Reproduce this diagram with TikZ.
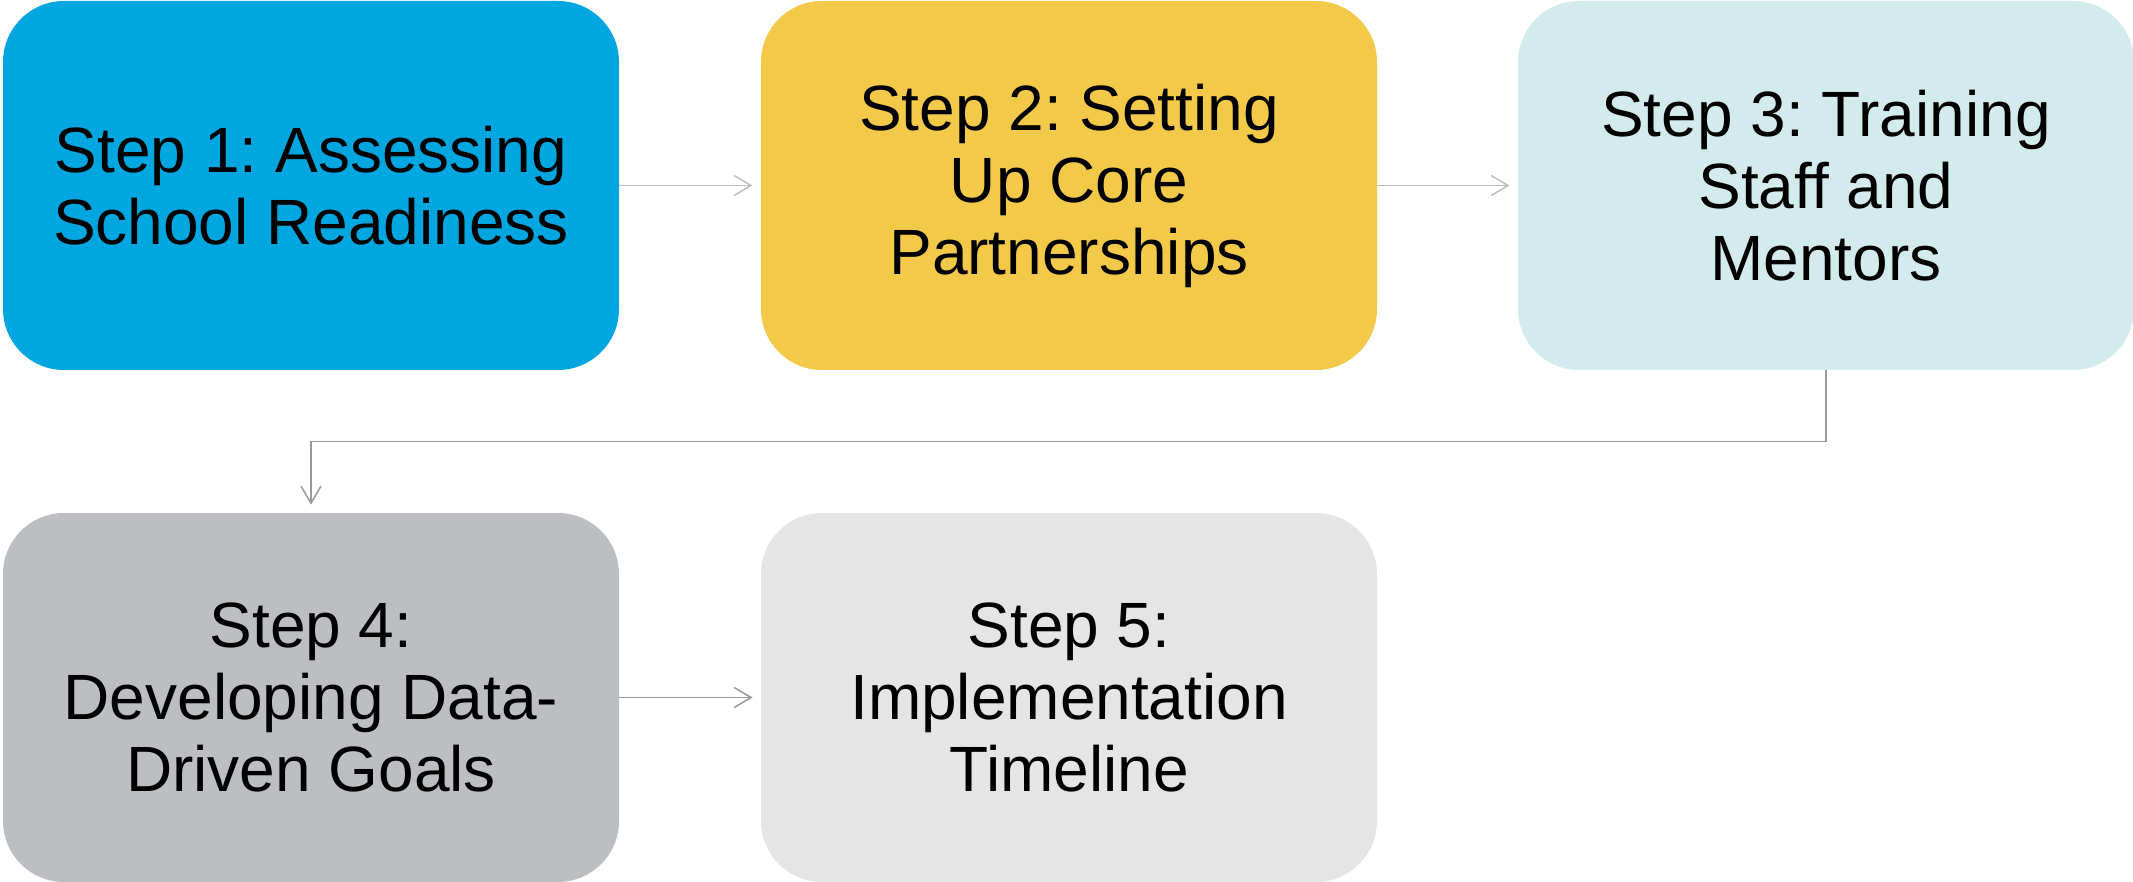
\documentclass[tikz,border=0pt]{standalone}
\usepackage{fontspec}
\setmainfont{Liberation Sans}
\usetikzlibrary{arrows.meta}
\frenchspacing
\definecolor{cblue}{HTML}{00A6DF}
\definecolor{cyellow}{HTML}{F3C94A}
\definecolor{cteal}{HTML}{D3EBEC}
\definecolor{cgray}{HTML}{BDBEC2}
\definecolor{clight}{HTML}{E5E5E5}
\definecolor{carrow}{HTML}{BDBDBD}
\definecolor{carrowd}{HTML}{999999}
\tikzset{
  stepbox/.style={rectangle, rounded corners=30.5pt, minimum width=308pt, minimum height=184.5pt,
    inner sep=0pt, align=center, font=\fontsize{32}{36}\selectfont\frenchspacing, text=black},
  conn/.style={draw=carrow, line width=0.75pt, -{Straight Barb[length=8.5pt,width=10pt,line width=0.75pt]}, shorten >=4pt},
}
\begin{document}
\begin{tikzpicture}[x=0.5pt,y=-0.5pt]
\useasboundingbox (0,0) rectangle (2133,882);
\node[stepbox, fill=cblue] (s1) at (311,185.5) {Step 1: Assessing\\School Readiness};
\node[stepbox, fill=cyellow] (s2) at (1069,185.5) {Step 2: Setting\\Up Core\\Partnerships};
\node[stepbox, fill=cteal] (s3) at (1826,185.5) {Step 3: Training\\Staff and\\Mentors};
\node[stepbox, fill=cgray] (s4) at (311,697.5) {Step 4:\\Developing Data-\\Driven Goals};
\node[stepbox, fill=clight] (s5) at (1069,697.5) {Step 5:\\Implementation\\Timeline};
\draw[conn] (s1.east) -- (s2.west);
\draw[conn] (s2.east) -- (s3.west);
\draw[conn, draw=carrowd] (s3.south) -- ++(0,71) -| (s4.north);
\draw[conn, draw=carrowd] (s4.east) -- (s5.west);
\end{tikzpicture}
\end{document}
